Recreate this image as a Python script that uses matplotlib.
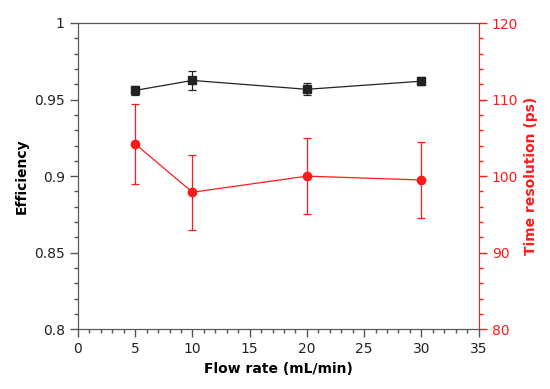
import matplotlib
matplotlib.use("Agg")
import matplotlib.pyplot as plt
from matplotlib.ticker import MultipleLocator

# Flow rate (mL/min)
flow = [5, 10, 20, 30]
efficiency = [0.956, 0.9625, 0.9567, 0.962]
efficiency_err = [0.0028, 0.006, 0.004, 0.0027]
time_res = [104.2, 97.9, 100.0, 99.5]
time_res_err = [5.2, 4.9, 5.0, 5.0]

RED = "#ff1a1a"
DARK = "#222222"

fig = plt.figure(figsize=(5.5, 3.89), dpi=100)
ax = fig.add_axes([78 / 550, 1 - 329.3 / 389, 400.5 / 550, 306.3 / 389])
ax2 = ax.twinx()

ax.errorbar(flow, efficiency, yerr=efficiency_err, color=DARK, marker="s",
            markersize=6, linewidth=0.9, elinewidth=0.9, capsize=3, capthick=0.9,
            zorder=3)
ax2.errorbar(flow, time_res, yerr=time_res_err, color=RED, marker="o",
             markersize=6, linewidth=0.9, elinewidth=0.9, capsize=3, capthick=0.9)

ax.set_xlim(0, 35)
ax.set_ylim(0.8, 1.0)
ax2.set_ylim(80, 120)

ax.xaxis.set_major_locator(MultipleLocator(5))
ax.xaxis.set_minor_locator(MultipleLocator(1))
ax.yaxis.set_major_locator(MultipleLocator(0.05))
ax.yaxis.set_minor_locator(MultipleLocator(0.01))
ax2.yaxis.set_major_locator(MultipleLocator(10))
ax2.yaxis.set_minor_locator(MultipleLocator(2))

ax.set_yticks([0.8, 0.85, 0.9, 0.95, 1.0])
ax.set_yticklabels(["0.8", "0.85", "0.9", "0.95", "1"])

for spine in ("left", "bottom", "top"):
    ax.spines[spine].set_color("#555555")
for spine in ("left", "bottom", "top"):
    ax2.spines[spine].set_color("#555555")
ax2.spines["right"].set_color(RED)
ax.spines["right"].set_visible(False)

ax.tick_params(axis="both", which="major", direction="out", length=6,
               width=1, color="#555555", labelsize=10, labelcolor="#222222")
ax.tick_params(axis="both", which="minor", direction="out", length=3,
               width=1, color="#555555")
ax2.tick_params(axis="y", which="major", direction="out", length=6,
                width=1, color=RED, labelsize=10, labelcolor=RED)
ax2.tick_params(axis="y", which="minor", direction="out", length=3,
                width=1, color=RED)

ax.set_xlabel("Flow rate (mL/min)", fontsize=10, fontweight="bold")
ax.set_ylabel("Efficiency", fontsize=10, fontweight="bold")
ax2.set_ylabel("Time resolution (ps)", fontsize=10, fontweight="bold", color=RED)

fig.savefig("out.png", dpi=100)
